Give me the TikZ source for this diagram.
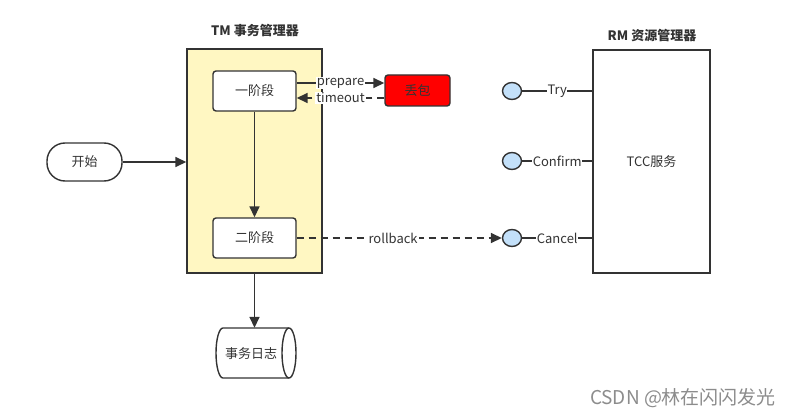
\documentclass[tikz,border=0pt]{standalone}
\usepackage{fontspec}
\setmainfont{Noto Sans CJK SC}
\usetikzlibrary{arrows.meta,shapes.geometric}
\definecolor{ln}{HTML}{333333}
\definecolor{yel}{HTML}{FFF7C2}
\definecolor{lblue}{HTML}{C3E0F9}
\tikzset{
  every node/.style={font=\fontsize{13}{15}\selectfont, text=ln},
  box/.style={draw=ln, line width=1.4pt, fill=white, rounded corners=3pt, minimum width=83pt, minimum height=40pt, inner sep=0pt},
  arr/.style={draw=ln, line width=1.6pt, -{Triangle[length=11pt,width=10pt]}},
  dsh/.style={dash pattern=on 7pt off 5pt},
  lbl/.style={fill=white, inner sep=1pt},
  port/.style={draw=ln, line width=1.4pt, fill=lblue, ellipse, minimum width=19pt, minimum height=17pt, inner sep=0pt},
}
\begin{document}
\begin{tikzpicture}[x=1pt,y=-1pt]
\useasboundingbox (0,0) rectangle (795,417);
% TM container
\node[draw=ln, line width=1.4pt, fill=yel, minimum width=135pt, minimum height=224pt, inner sep=0pt] (tm) at (254.5,161) {};
\node[font=\bfseries\fontsize{13}{15}\selectfont] (tmt) at (255,31) {TM 事务管理器};
% RM container
\node[draw=ln, line width=1.4pt, fill=white, minimum width=117pt, minimum height=223pt, inner sep=0pt] (rm) at (651.5,161.5) {TCC服务};
\node[font=\bfseries\fontsize{13}{15}\selectfont] (rmt) at (652,36) {RM 资源管理器};
% phases
\node[box] (p1) at (254.5,91) {一阶段};
\node[box] (p2) at (254.5,238) {二阶段};
\node[draw=ln, line width=1.4pt, fill=red, rounded corners=3pt, minimum width=65pt, minimum height=31pt, inner sep=0pt] (loss) at (417.5,90.5) {丢包};
% start
\node[draw=ln, line width=1.4pt, fill=white, rounded corners=18pt, minimum width=75pt, minimum height=38pt, inner sep=0pt] (start) at (84.5,162) {开始};
% log cylinder
\node[minimum width=80pt, minimum height=50pt, inner sep=0pt] (log) at (256,353) {};
\draw[draw=ln, line width=1.4pt, fill=white] (223,328) -- (289,328) arc (90:-90:7pt and 25pt) -- (223,378) arc (270:90:7pt and 25pt) -- cycle;
\draw[draw=ln, line width=1.4pt] (289,328) arc (90:270:7pt and 25pt);
\node (logt) at (251,354) {事务日志};
% ports
\node[port] (c1) at (512,91) {};
\node[port] (c2) at (512,161) {};
\node[port] (c3) at (512,238) {};
% connectors
\draw[arr] (start.east) -- (start.east -| tm.west);
\draw[arr] (p1.south) -- (p2.north);
\draw[arr] (tm.south) -- (tm.south |- log.north);
\draw[arr] (p1.east |- 0,83) -- node[lbl] {prepare} (loss.west |- 0,83);
\draw[arr, dsh] (loss.west |- 0,98) -- node[lbl] {timeout} (p1.east |- 0,98);
\draw[arr, dsh] (p2.east) -- node[lbl, pos=0.47] {rollback} (c3.west);
\draw[draw=ln, line width=1.6pt] (c1.east) -- node[lbl, inner sep=0.5pt] {Try} (c1.east -| rm.west);
\draw[draw=ln, line width=1.6pt] (c2.east) -- node[lbl, inner sep=0.5pt] {Confirm} (c2.east -| rm.west);
\draw[draw=ln, line width=1.6pt] (c3.east) -- node[lbl, inner sep=0.5pt] {Cancel} (c3.east -| rm.west);
% watermark
\node[font=\fontsize{19}{21}\selectfont, text=black!45] (wm) at (683,398) {CSDN @林在闪闪发光};
\end{tikzpicture}
\end{document}
